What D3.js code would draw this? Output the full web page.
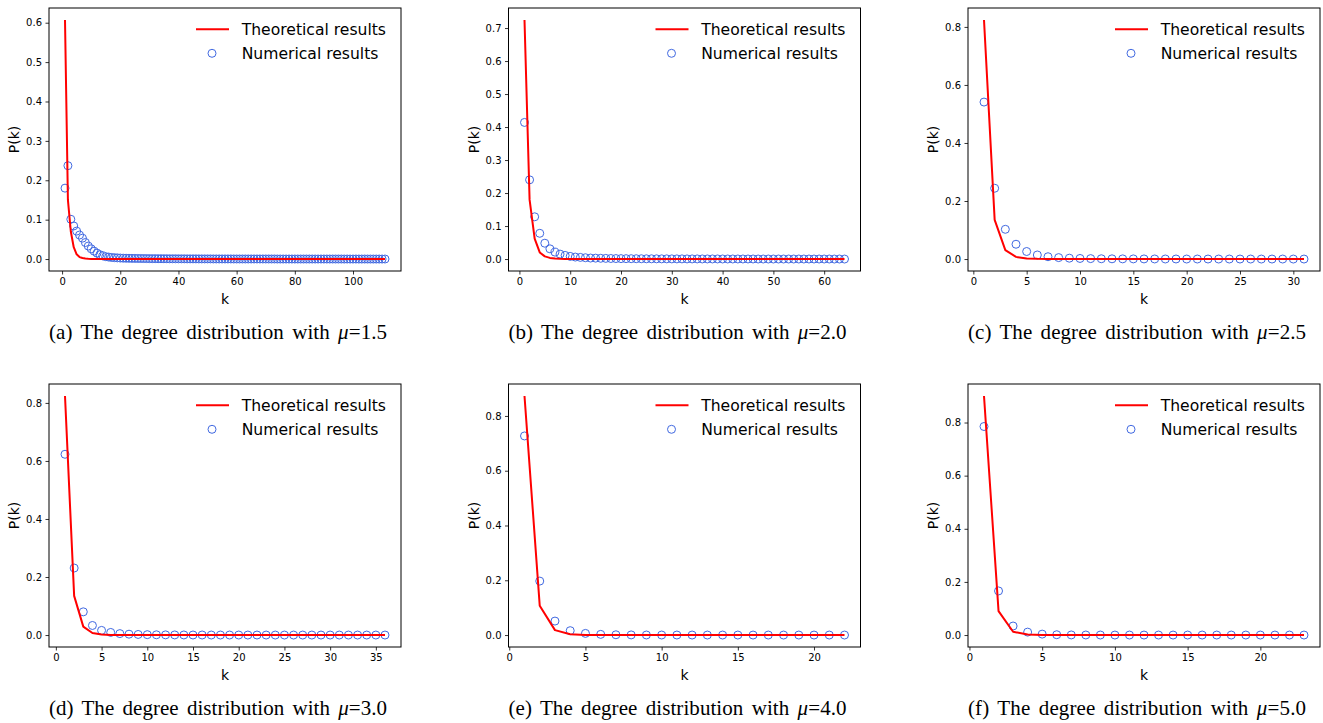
<!DOCTYPE html>
<html><head><meta charset="utf-8">
<script src="https://cdn.jsdelivr.net/npm/d3@7"></script>
<style>body{margin:0;background:#fff}svg{display:block}</style>
</head><body>
<svg id="c" width="1323" height="723"></svg>
<script>
// ---------- DATA ----------
const muLabels = ["1.5", "2.0", "2.5", "3.0", "4.0", "5.0"];
const panelLetters = ["a", "b", "c", "d", "e", "f"];
const seriesNames = ["Theoretical results", "Numerical results"];

const numA = [0.180,0.237,0.101,0.084,0.071,0.061,0.053,0.042,0.033,0.026,
  0.020,0.015,0.011,0.008,0.006,0.005,0.004,0.0035,0.003,0.0025,
  0.0022,0.002,0.0019,0.0017,0.0016,0.0015,0.0014,0.0013,0.0012,0.0011,
  0.0010,0.0010,0.0009,0.0009,0.0008,0.0008,0.0007,0.0007,0.0007,0.0006,
  0.0006,0.0006,0.0005,0.0005,0.0005,0.0005,0.0004,0.0004,0.0004,0.0004,
  0.0004,0.0003,0.0003,0.0003,0.0003,0.0003,0.0003,0.0003,0.0002,0.0002,
  0.0002,0.0002,0.0002,0.0002,0.0002,0.0002,0.0002,0.0002,0.0002,0.0002,
  0.0002,0.0002,0.0002,0.0001,0.0001,0.0001,0.0001,0.0001,0.0001,0.0001,
  0.0001,0.0001,0.0001,0.0001,0.0001,0.0001,0.0001,0.0001,0.0001,0.0001,
  0.0001,0.0001,0.0001,0.0001,0.0001,0.0001,0,0.0001,0,0,
  0.0001,0,0,0.0001,0,0,0,0,0,0,0.0001];
const theoA = [0.607,0.15,0.07,0.03,0.012,0.005,0.0025,0.0012,0.0007,0.0004,
  0.0003,0.0002,0.0002,0.0001,0.0001,0.0001,0.0001,0,0,0,
  0,0,0,0,0,0,0,0,0,0,
  0,0,0,0,0,0,0,0,0,0,
  0,0,0,0,0,0,0,0,0,0,
  0,0,0,0,0,0,0,0,0,0,
  0,0,0,0,0,0,0,0,0,0,
  0,0,0,0,0,0,0,0,0,0,
  0,0,0,0,0,0,0,0,0,0,
  0,0,0,0,0,0,0,0,0,0,
  0,0,0,0,0,0,0,0,0,0,0];

const numB = [0.414,0.240,0.128,0.078,0.048,0.031,0.021,0.015,0.011,0.008,
  0.006,0.005,0.004,0.003,0.0027,0.0023,0.002,0.0017,0.0015,0.0013,
  0.0012,0.0011,0.001,0.0009,0.0008,0.0008,0.0007,0.0006,0.0006,0.0005,
  0.0005,0.0005,0.0004,0.0004,0.0004,0.0003,0.0003,0.0003,0.0003,0.0002,
  0.0002,0.0002,0.0002,0.0002,0.0002,0.0002,0.0001,0.0001,0.0001,0.0001,
  0.0001,0.0001,0.0001,0.0001,0.0001,0.0001,0.0001,0.0001,0.0001,0.0001,
  0.0001,0,0.0001,0];
const theoB = [0.7245,0.18,0.062,0.02,0.008,0.0035,0.0017,0.0009,0.0005,0.0003,
  0.0002,0.0001,0.0001,0.0001,0.0001,0,0,0,0,0,
  0,0,0,0,0,0,0,0,0,0,
  0,0,0,0,0,0,0,0,0,0,
  0,0,0,0,0,0,0,0,0,0,
  0,0,0,0,0,0,0,0,0,0,
  0,0,0,0];

const numC = [0.541,0.244,0.1025,0.051,0.026,0.014,0.008,0.005,0.003,0.002,
  0.0015,0.001,0.0008,0.0006,0.0005,0.0004,0.0003,0.0002,0.0002,0.0001,
  0.0001,0.0001,0.0001,0.0001,0,0.0001,0,0,0.0001,0,0];
const theoC = [0.824,0.135,0.031,0.0075,0.002,0.0006,0.0002,0.0001,0,0,
  0,0,0,0,0,0,0,0,0,0,
  0,0,0,0,0,0,0,0,0,0,0];

const numD = [0.623,0.231,0.080,0.033,0.016,0.009,0.005,0.003,0.002,0.0013,
  0.0009,0.0006,0.0004,0.0003,0.0002,0.0002,0.0001,0.0001,0.0001,0.0001,
  0,0.0001,0,0,0,0,0,0,0,0,
  0,0,0,0,0,0];
const theoD = [0.824,0.135,0.029,0.007,0.0018,0.0005,0.0002,0.0001,0,0,
  0,0,0,0,0,0,0,0,0,0,
  0,0,0,0,0,0,0,0,0,0,
  0,0,0,0,0,0];

const numE = [0.727,0.197,0.051,0.016,0.006,0.0025,0.001,0.0005,0.0002,0.0001,
  0.0001,0,0,0,0,0,0,0,0,0,0,0];
const theoE = [0.873,0.107,0.018,0.0032,0.0006,0.0001,0,0,0,0,
  0,0,0,0,0,0,0,0,0,0,0,0];

const numF = [0.785,0.166,0.034,0.011,0.0035,0.0012,0.0004,0.0002,0.0001,0,
  0,0,0,0,0,0,0,0,0,0,0,0,0];
const theoF = [0.9,0.09,0.0125,0.002,0.0003,0.0001,0,0,0,0,
  0,0,0,0,0,0,0,0,0,0,0,0,0];

const xTicksA = [0,20,40,60,80,100];
const xTicksB = [0,10,20,30,40,50,60];
const xTicksC = [0,5,10,15,20,25,30];
const xTicksD = [0,5,10,15,20,25,30,35];
const xTicksE = [0,5,10,15,20];
const xTicksF = [0,5,10,15,20];
const yTicksA = [0,0.1,0.2,0.3,0.4,0.5,0.6];
const yTicksB = [0,0.1,0.2,0.3,0.4,0.5,0.6,0.7];
const yTicksC = [0,0.2,0.4,0.6,0.8];
const yTicksD = [0,0.2,0.4,0.6,0.8];
const yTicksE = [0,0.2,0.4,0.6,0.8];
const yTicksF = [0,0.2,0.4,0.6,0.8];

// ---------- LAYOUT ----------
const colX = [[49,401],[508.5,860.5],[968,1320]];
const rowY = [[8,271],[384,647]];
const panels = [
  {num:numA, theo:theoA, xt:xTicksA, yt:yTicksA},
  {num:numB, theo:theoB, xt:xTicksB, yt:yTicksB},
  {num:numC, theo:theoC, xt:xTicksC, yt:yTicksC},
  {num:numD, theo:theoD, xt:xTicksD, yt:yTicksD},
  {num:numE, theo:theoE, xt:xTicksE, yt:yTicksE},
  {num:numF, theo:theoF, xt:xTicksF, yt:yTicksF}
];

const svg = d3.select("#c");
const SANS = "DejaVu Sans, sans-serif";
const SERIF = "Liberation Serif, Times New Roman, serif";
const RED = "#ff0000", BLUE = "#4169e1", INK = "#000";

panels.forEach((p, i) => {
  const [x0, x1] = colX[i % 3];
  const [y0, y1] = rowY[Math.floor(i / 3)];
  const n = p.num.length;
  const pts = p.num.map((v, j) => ({k: j + 1, v}));
  const line = p.theo.map((v, j) => ({k: j + 1, v}));
  const allV = p.num.concat(p.theo);
  const vmin = d3.min(allV), vmax = d3.max(allV);
  const xm = (n - 1) * 0.05, ym = (vmax - vmin) * 0.05;
  const x = d3.scaleLinear().domain([1 - xm, n + xm]).range([x0, x1]);
  const y = d3.scaleLinear().domain([vmin - ym, vmax + ym]).range([y1, y0]);

  const g = svg.append("g");

  // data: numerical circles, then theoretical line
  g.append("g").selectAll("circle").data(pts).join("circle")
    .attr("cx", d => x(d.k)).attr("cy", d => y(d.v)).attr("r", 4)
    .attr("fill", "none").attr("stroke", BLUE).attr("stroke-width", 1);
  g.append("path").datum(line)
    .attr("d", d3.line().x(d => x(d.k)).y(d => y(d.v)))
    .attr("fill", "none").attr("stroke", RED).attr("stroke-width", 2)
    .attr("stroke-linejoin", "round");

  // axes
  const ax = g.append("g").attr("transform", `translate(0,${y1})`)
    .call(d3.axisBottom(x).tickValues(p.xt).tickFormat(d3.format("d"))
      .tickSize(3.5).tickPadding(3.5));
  const ay = g.append("g").attr("transform", `translate(${x0},0)`)
    .call(d3.axisLeft(y).tickValues(p.yt).tickFormat(d3.format(".1f"))
      .tickSize(3.5).tickPadding(3.5));
  [ax, ay].forEach(a => {
    a.select(".domain").remove();
    a.selectAll("line").attr("stroke", INK).attr("stroke-width", 0.8);
    a.selectAll("text").attr("font-family", SANS).attr("font-size", 10).attr("fill", INK);
  });

  // frame
  g.append("rect").attr("x", x0).attr("y", y0).attr("width", x1 - x0).attr("height", y1 - y0)
    .attr("fill", "none").attr("stroke", INK).attr("stroke-width", 1);

  // axis labels
  g.append("text").attr("x", (x0 + x1) / 2).attr("y", y1 + 33)
    .attr("text-anchor", "middle").attr("font-family", SANS).attr("font-size", 14)
    .text("k");
  g.append("text").attr("transform", `translate(${x0 - 30},${(y0 + y1) / 2}) rotate(-90)`)
    .attr("text-anchor", "middle").attr("font-family", SANS).attr("font-size", 14)
    .text("P(k)");

  // legend
  const lg = g.append("g");
  lg.append("line").attr("x1", x1 - 205).attr("x2", x1 - 172)
    .attr("y1", y0 + 21.3).attr("y2", y0 + 21.3).attr("stroke", RED).attr("stroke-width", 2);
  lg.append("circle").attr("cx", x1 - 189).attr("cy", y0 + 45.3).attr("r", 4)
    .attr("fill", "none").attr("stroke", BLUE).attr("stroke-width", 1);
  seriesNames.forEach((s, j) => {
    lg.append("text").attr("x", x1 - 159.3).attr("y", y0 + 21.3 + j * 24)
      .attr("dy", "0.35em").attr("font-family", SANS).attr("font-size", 15.6)
      .attr("fill", INK).text(s);
  });

  // caption
  const cap = g.append("text").attr("x", x0).attr("y", y1 + 68)
    .attr("font-family", SERIF).attr("font-size", 21)
    .attr("word-spacing", 3)
    .attr("textLength", 338).attr("lengthAdjust", "spacing")
    .attr("fill", INK);
  cap.append("tspan").text(`(${panelLetters[i]}) The degree distribution with `);
  cap.append("tspan").attr("font-style", "italic").text("\u03bc");
  cap.append("tspan").text(`=${muLabels[i]}`);
});
</script>
</body></html>
